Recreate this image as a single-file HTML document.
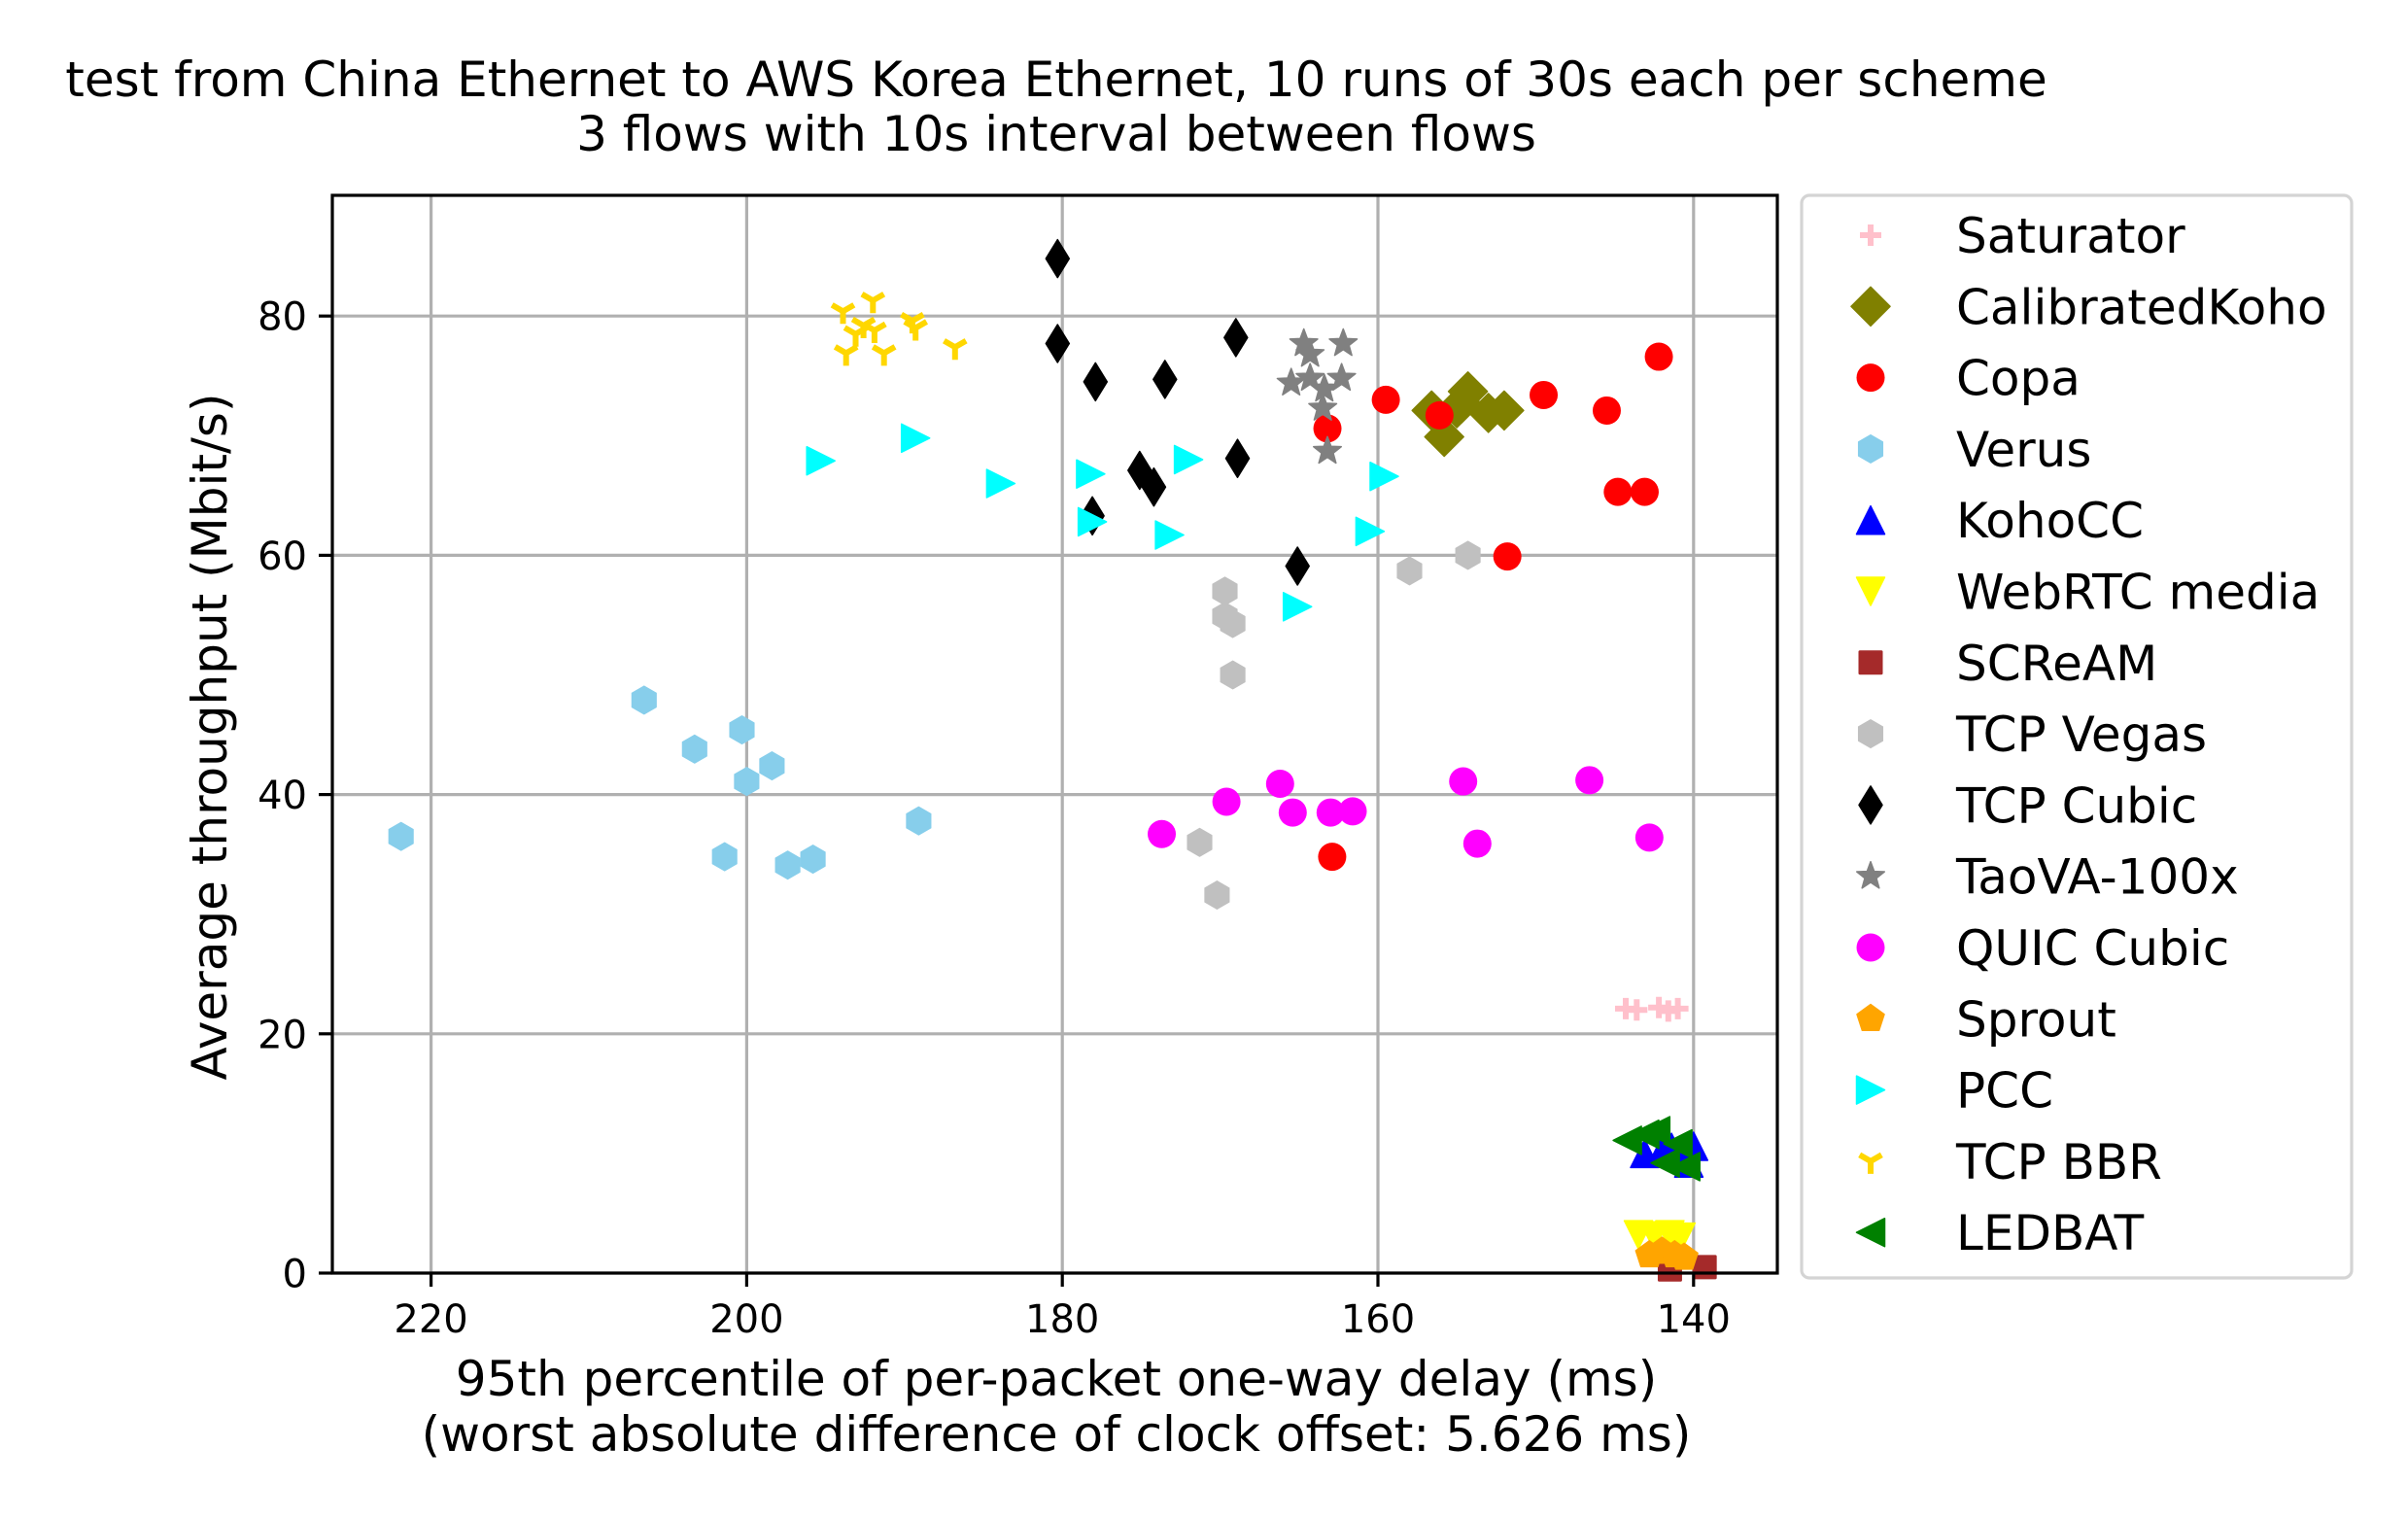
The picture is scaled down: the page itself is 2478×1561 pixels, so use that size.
<!DOCTYPE html>
<html><head><meta charset="utf-8"><title>Throughput vs delay</title>
<style>
html,body{margin:0;padding:0;background:#fff;}
svg{display:block;font-family:"DejaVu Sans","Liberation Sans",sans-serif;}
</style></head>
<body>
<svg id="chart" width="2478" height="1561" viewBox="0 0 2478 1561" xmlns="http://www.w3.org/2000/svg">
<rect width="2478" height="1561" fill="#fff"/>
<g id="grid"></g>
<g id="marks"></g>
<rect x="342" y="201" width="1487" height="1109" fill="none" stroke="#000" stroke-width="3.2"/>
<g id="ticks" font-size="40"></g>
<text x="1087" y="99" font-size="50" text-anchor="middle">test from China Ethernet to AWS Korea Ethernet, 10 runs of 30s each per scheme</text>
<text x="1087" y="155" font-size="50" text-anchor="middle">3 flows with 10s interval between flows</text>
<text x="1087" y="1436" font-size="50" text-anchor="middle">95th percentile of per-packet one-way delay (ms)</text>
<text x="1087" y="1493" font-size="50" text-anchor="middle">(worst absolute difference of clock offset: 5.626 ms)</text>
<text x="0" y="0" font-size="50" text-anchor="middle" transform="translate(233,758) rotate(-90)">Average throughput (Mbit/s)</text>
<rect x="1854" y="201" width="566" height="1114" rx="8" fill="#fff" stroke="#d4d4d4" stroke-width="3.2"/>
<g id="legend" font-size="50"></g>
</svg>
<script>
const xTicks=[220,200,180,160,140];
const yTicks=[0,20,40,60,80];
const schemes=["Saturator","CalibratedKoho","Copa","Verus","KohoCC","WebRTC media","SCReAM","TCP Vegas","TCP Cubic","TaoVA-100x","QUIC Cubic","Sprout","PCC","TCP BBR","LEDBAT"];
const colors=["#ffc0cb","#808000","#ff0000","#87ceeb","#0000ff","#ffff00","#a52a2a","#c0c0c0","#000000","#808080","#ff00ff","#ffa500","#00ffff","#ffd700","#008000"];
const markers=["plus","D","o","h","^","v","s","h","d","*","o","p",">","tri","<"];
const saturatorX=[144.3,143.6,142.2,141.6,141.0];
const saturatorY=[22.1,22.0,22.2,21.9,22.1];
const calibratedX=[156.6,154.3,155.8,153.0,152.0,155.0,154.7];
const calibratedY=[72.1,73.7,69.9,71.9,72.1,72.3,72.7];
const copaX=[142.2,149.5,145.5,159.5,156.1,163.2,144.8,143.1,151.8,162.9];
const copaY=[76.6,73.4,72.1,73.0,71.7,70.6,65.3,65.3,59.9,34.8];
const verusX=[221.9,206.5,203.3,200.3,200.0,198.4,201.4,197.4,195.8,189.1];
const verusY=[36.5,47.9,43.8,45.4,41.1,42.4,34.8,34.1,34.6,37.8];
const kohoX=[143.1,141.4,140.0,140.3,142.0];
const kohoY=[10.0,10.5,10.6,9.2,10.2];
const webrtcX=[143.5,142.5,141.5,140.8];
const webrtcY=[3.2,3.1,3.2,3.0];
const screamX=[141.5,139.3];
const screamY=[0.3,0.5];
const vegasX=[169.7,169.7,169.2,169.2,158.0,154.3,171.3,170.2];
const vegasY=[57.0,54.9,54.3,50.0,58.7,60.0,36.0,31.6];
const cubicX=[180.3,180.3,177.9,173.5,169.0,175.1,174.2,178.1,168.9,165.1];
const cubicY=[84.8,77.7,74.5,74.7,78.2,67.1,65.7,63.3,68.1,59.1];
const taovaX=[164.7,162.2,164.3,165.5,164.3,162.3,163.4,163.5,163.2];
const taovaY=[77.7,77.7,76.8,74.4,74.8,74.8,73.9,72.3,68.7];
const quicX=[173.7,169.6,166.2,165.4,163.0,161.6,154.6,153.7,146.6,142.8];
const quicY=[36.7,39.4,40.9,38.5,38.5,38.6,41.1,35.9,41.2,36.4];
const sproutX=[142.8,142.0,141.2,140.6];
const sproutY=[1.5,1.8,1.5,1.3];
const pccX=[195.3,189.3,183.9,178.2,178.1,172.0,173.2,165.1,160.5,159.6];
const pccY=[67.9,69.8,66.0,66.8,62.8,68.0,61.7,55.7,62.0,66.6];
const bbrX=[193.9,192.0,193.1,192.6,191.9,193.7,191.3,189.5,189.3,186.8];
const bbrY=[80.4,81.3,78.5,79.2,78.8,76.9,76.9,79.6,79.0,77.4];
const ledbatX=[143.1,144.2,141.0,140.5,141.8,142.4];
const ledbatY=[11.6,11.1,10.8,8.9,9.2,11.9];
const seriesX=[saturatorX,calibratedX,copaX,verusX,kohoX,webrtcX,screamX,vegasX,cubicX,taovaX,quicX,sproutX,pccX,bbrX,ledbatX];
const seriesY=[saturatorY,calibratedY,copaY,verusY,kohoY,webrtcY,screamY,vegasY,cubicY,taovaY,quicY,sproutY,pccY,bbrY,ledbatY];

const NS="http://www.w3.org/2000/svg";
const L=342,R=1829,T=201,B=1310;
function xs(v){return 443.6+(220-v)*16.24;}
function ys(v){return B-v*12.31;}
function mk(tag,attrs,parent){const e=document.createElementNS(NS,tag);for(const k in attrs)e.setAttribute(k,attrs[k]);parent.appendChild(e);return e;}
function poly(n,r,rot){let p=[];for(let i=0;i<n;i++){const a=rot+i*2*Math.PI/n;p.push((r*Math.cos(a)).toFixed(2)+","+(r*Math.sin(a)).toFixed(2));}return p.join(" ");}
function star(r){let p=[];for(let i=0;i<10;i++){const rr=i%2?r*0.42:r;const a=-Math.PI/2+i*Math.PI/5;p.push((rr*Math.cos(a)).toFixed(2)+","+(rr*Math.sin(a)).toFixed(2));}return p.join(" ");}
function drawMarker(g,type,cx,cy,color){
  const t="translate("+cx.toFixed(1)+","+cy.toFixed(1)+")";
  let el;
  switch(type){
    case "o": el=mk("circle",{cx:cx,cy:cy,r:14.5,fill:color},g);break;
    case "D": el=mk("polygon",{points:"0,-20 20,0 0,20 -20,0",fill:color,transform:t,"stroke":color,"stroke-width":1.5,"stroke-linejoin":"round"},g);break;
    case "d": el=mk("polygon",{points:"0,-19.5 12,0 0,19.5 -12,0",fill:color,transform:t,"stroke":color,"stroke-width":1.5,"stroke-linejoin":"round"},g);break;
    case "h": el=mk("polygon",{points:poly(6,14.5,-Math.PI/2),fill:color,transform:t,"stroke":color,"stroke-width":1,"stroke-linejoin":"round"},g);break;
    case "p": el=mk("polygon",{points:poly(5,15,-Math.PI/2),fill:color,transform:t,"stroke":color,"stroke-width":1,"stroke-linejoin":"round"},g);break;
    case "s": el=mk("rect",{x:cx-12.5,y:cy-12.5,width:25,height:25,fill:color,rx:1.5},g);break;
    case "^": el=mk("polygon",{points:"0,-14.5 14.5,14.5 -14.5,14.5",fill:color,transform:t,"stroke":color,"stroke-width":1.5,"stroke-linejoin":"round"},g);break;
    case "v": el=mk("polygon",{points:"0,14.5 14.5,-14.5 -14.5,-14.5",fill:color,transform:t,"stroke":color,"stroke-width":1.5,"stroke-linejoin":"round"},g);break;
    case ">": el=mk("polygon",{points:"14.5,0 -14.5,14.5 -14.5,-14.5",fill:color,transform:t,"stroke":color,"stroke-width":1.5,"stroke-linejoin":"round"},g);break;
    case "<": el=mk("polygon",{points:"-14.5,0 14.5,14.5 14.5,-14.5",fill:color,transform:t,"stroke":color,"stroke-width":1.5,"stroke-linejoin":"round"},g);break;
    case "*": el=mk("polygon",{points:star(15),fill:color,transform:t,"stroke":color,"stroke-width":1.5,"stroke-linejoin":"round"},g);break;
    case "plus": el=mk("path",{d:"M-11,0H11M0,-11V11",stroke:color,"stroke-width":6,fill:"none",transform:t},g);break;
    case "tri": el=mk("path",{d:"M0,0V13M0,0L-11.3,-6.5M0,0L11.3,-6.5",stroke:color,"stroke-width":6,fill:"none",transform:t},g);break;
  }
  return el;
}
const grid=document.getElementById("grid");
const ticks=document.getElementById("ticks");
xTicks.forEach(v=>{
  const x=xs(v);
  const gl=mk("line",{x1:x,x2:x,y1:T,y2:B,stroke:"#b0b0b0","stroke-width":3.2},grid);
  
  
  const tk=mk("line",{x1:x,x2:x,y1:B,y2:B+14,stroke:"#000","stroke-width":3.2},ticks);
  
  
  const tl=mk("text",{x:x,y:1371,"text-anchor":"middle"},ticks);
  tl.textContent=v;
  
  
});
yTicks.forEach(v=>{
  const y=ys(v);
  const gl=mk("line",{x1:L,x2:R,y1:y,y2:y,stroke:"#b0b0b0","stroke-width":3.2},grid);
  
  
  const tk=mk("line",{x1:L-14,x2:L,y1:y,y2:y,stroke:"#000","stroke-width":3.2},ticks);
  
  
  const tl=mk("text",{x:L-26,y:y+14.5,"text-anchor":"end"},ticks);
  tl.textContent=v;
  
  
});
const marks=document.getElementById("marks");
const legend=document.getElementById("legend");
schemes.forEach((name,i)=>{
  const g=mk("g",{},marks);
  
  
  seriesX[i].forEach((xv,j)=>{
    const m=drawMarker(g,markers[i],xs(xv),ys(seriesY[i][j]),colors[i]);
    
    
  });
  const cy=242+i*73.3;
  const lg=mk("g",{},legend);
  
  
  drawMarker(lg,markers[i],1925,cy,colors[i]);
  const tx=mk("text",{x:2013,y:cy+18},lg);
  tx.textContent=name;
});
</script>
</body></html>
